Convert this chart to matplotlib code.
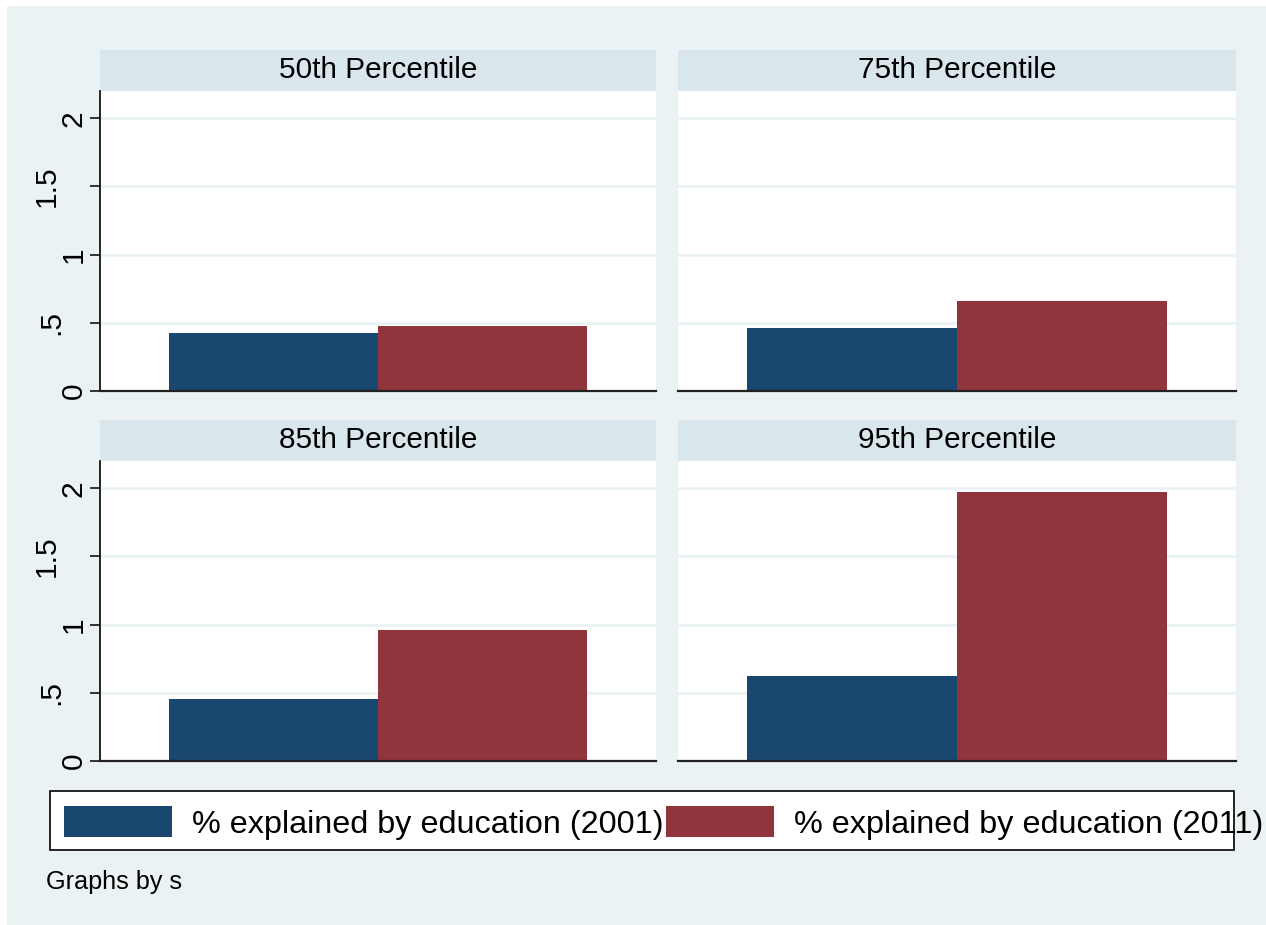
import matplotlib
matplotlib.use("Agg")
import matplotlib.pyplot as plt
import matplotlib.transforms as mtransforms
from matplotlib.patches import Rectangle, Patch

plt.rcParams['font.family'] = ['Liberation Sans', 'DejaVu Sans']

# bar heights per panel
panels = ['50th Percentile', '75th Percentile', '85th Percentile', '95th Percentile']
share_2001 = [0.425, 0.462, 0.455, 0.624]
share_2011 = [0.475, 0.661, 0.962, 1.975]
series_labels = ['% explained by education (2001)', '% explained by education (2011)']
y_ticks = [0, 0.5, 1, 1.5, 2]
y_ticklabels = ['0', '.5', '1', '1.5', '2']

BLUE = '#1a476f'
RED = '#90353b'
STRIP = '#d9e6eb'
BG = '#eaf2f3'

W, H = 1266, 925
fig = plt.figure(figsize=(W / 100, H / 100), dpi=100)
fig.patch.set_facecolor('white')
fig.patches.append(Rectangle((7 / W, 0), 1 - 7 / W, 1 - 6 / H, transform=fig.transFigure,
                             facecolor=BG, edgecolor='none', zorder=-10))


def px_axes(x0, y0, x1, y1):
    return fig.add_axes([x0 / W, 1 - y1 / H, (x1 - x0) / W, (y1 - y0) / H])


cols = [(100, 656), (678, 1236)]
rows = [(91, 391), (461, 761)]
strip_h = 41

# stata shifts some rotated labels sideways
label_shift = {'1.5': -27, '.5': -23}

for i, title in enumerate(panels):
    r, c = divmod(i, 2)
    x0, x1 = cols[c]
    y0, y1 = rows[r]
    ax = px_axes(x0, y0, x1, y1)
    ax.set_facecolor('white')
    ax.bar([-0.5, 0.5], [share_2001[i], share_2011[i]], width=1.0,
           color=[BLUE, RED], edgecolor='none', zorder=3)
    ax.set_xlim(-1.33, 1.33)
    ax.set_ylim(0, 2.2)
    ax.set_xticks([])
    ax.set_yticks(y_ticks)
    ax.yaxis.grid(True, color=BG, linewidth=2)
    ax.set_axisbelow(True)
    for s in ['top', 'right']:
        ax.spines[s].set_visible(False)
    ax.spines['bottom'].set_color('#222222')
    ax.spines['bottom'].set_linewidth(1.6)
    ax.spines['bottom'].set_zorder(4)
    if c == 0:
        ax.spines['left'].set_color('black')
        ax.spines['left'].set_linewidth(1.2)
        ax.set_yticklabels(y_ticklabels, rotation=90, va='center', fontsize=21.5)
        ax.tick_params(axis='y', length=7.2, width=1.1, pad=1.5, colors='black')
        for lbl in ax.get_yticklabels():
            dx = label_shift.get(lbl.get_text(), 0)
            if dx:
                lbl.set_transform(lbl.get_transform() +
                                  mtransforms.ScaledTranslation(dx / 100, 0, fig.dpi_scale_trans))
    else:
        ax.spines['left'].set_visible(False)
        ax.tick_params(axis='y', length=0, labelleft=False)

    # panel header strip
    sh = strip_h / (y1 - y0)
    ax.add_patch(Rectangle((0, 1), 1, sh, transform=ax.transAxes, facecolor=STRIP,
                           edgecolor='none', clip_on=False))
    ax.text(0.5, 1 + sh / 2, title, transform=ax.transAxes, ha='center', va='center',
            fontsize=21.4, color='black')

# legend frame
fig.patches.append(Rectangle((50 / W, 1 - 850 / H), (1234 - 50) / W, (850 - 791) / H,
                             transform=fig.transFigure, facecolor='white',
                             edgecolor='black', linewidth=1.2, zorder=1))
handles = [Patch(facecolor=BLUE, edgecolor='none'), Patch(facecolor=RED, edgecolor='none')]
fs = 23.3
fs_px = fs * 100 / 72
fig.legend(handles, series_labels, loc='center left', bbox_to_anchor=(64 / W, 1 - 823 / H),
           ncol=2, frameon=False, fontsize=fs, borderpad=0, borderaxespad=0,
           handlelength=108 / fs_px, handleheight=34 / fs_px, handletextpad=19.7 / fs_px,
           columnspacing=3 / fs_px)

fig.text(46 / W, 1 - 889 / H, 'Graphs by s', fontsize=18.2, ha='left', va='baseline')

fig.savefig('out.png', dpi=100)
